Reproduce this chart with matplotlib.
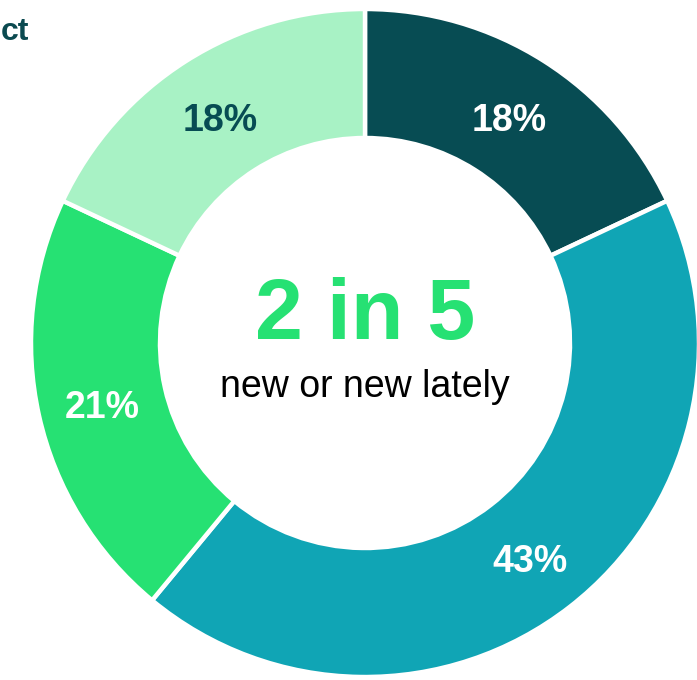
import matplotlib
matplotlib.use('Agg')
import matplotlib.pyplot as plt

plt.rcParams['font.family'] = ['Liberation Sans', 'DejaVu Sans']

# Share of respondents, clockwise from 12 o'clock
segments = ['dark', 'teal', 'green', 'light']
shares = [18, 43, 21, 18]
colors = ['#074C53', '#10A5B5', '#26E173', '#A8F2C5']
label_colors = ['white', 'white', 'white', '#074C53']

headline = '2 in 5'
subline = 'new or new lately'

W, H = 697, 680
cx, cy, R = 365, 343, 334   # donut centre / outer radius in pixels
ring = 1 - 205 / 334

fig = plt.figure(figsize=(W / 100, H / 100), dpi=100)
ax = fig.add_axes([0, 0, 1, 1])

wedges, texts = ax.pie(shares, colors=colors, startangle=90, counterclock=False,
                       radius=1, labels=[f'{s}%' for s in shares],
                       labeldistance=1 - ring / 2,
                       wedgeprops=dict(width=ring, edgecolor='white', linewidth=3.2),
                       textprops=dict(fontsize=27, fontweight='bold', ha='center', va='center'))
for t, c in zip(texts, label_colors):
    t.set_color(c)
    t.set_ha('center')
    x, y = t.get_position()
    t.set_position((x, y - 6 / R))

ax.set_xlim(-cx / R, (W - cx) / R)
ax.set_ylim(-(H - cy) / R, cy / R)
ax.set_aspect('equal')
ax.axis('off')

ax.text(0, (cy - 317) / R, headline, ha='center', va='center', fontsize=62,
        fontweight='bold', color='#26E173')
ax.text(0, (cy - 387) / R, subline, ha='center', va='center', fontsize=27, color='black')

# title fragment at the top-left edge
fig.text(1 / W, 1 - 32 / H, 'ct', ha='left', va='center', fontsize=23,
         fontweight='bold', color='#0B4A50')

fig.savefig('out.png', dpi=100)
